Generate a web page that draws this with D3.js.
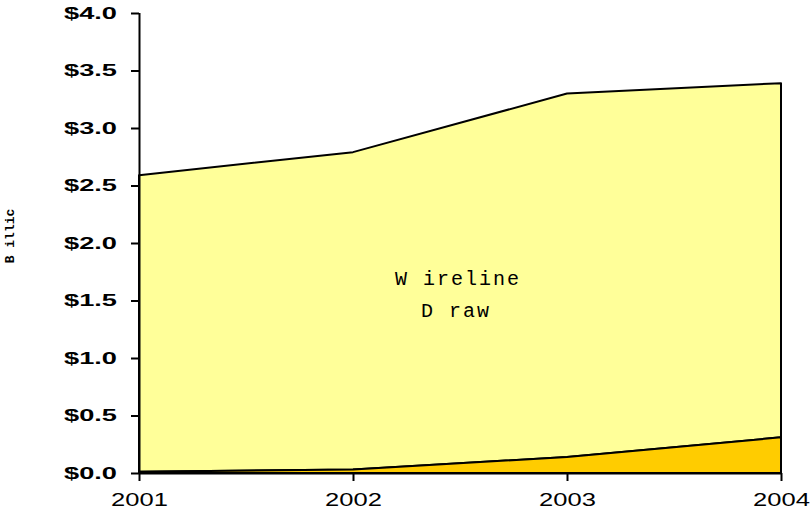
<!DOCTYPE html>
<html>
<head>
<meta charset="utf-8">
<script src="https://cdn.jsdelivr.net/npm/d3@7/dist/d3.min.js"></script>
<style>
  body { margin: 0; background: #fff; }
</style>
</head>
<body>
<div class="js-chart"></div>
<script>
// Data (billions of dollars)
var years = [2001, 2002, 2003, 2004];
var otherValues = [0.01, 0.03, 0.14, 0.31];
var wirelineValues = [2.58, 2.76, 3.16, 3.08];
var yTicks = [0, 0.5, 1, 1.5, 2, 2.5, 3, 3.5, 4];

var width = 810;
var height = 511;
var margin = { top: 13, right: 29, bottom: 38, left: 139 };

var svg = d3.select('.js-chart').append('svg')
  .attr('width', width)
  .attr('height', height);

var x = d3.scalePoint()
  .domain(years)
  .range([margin.left, width - margin.right]);

var y = d3.scaleLinear()
  .domain([0, 4])
  .range([height - margin.bottom, margin.top]);

var rows = years.map(function(yr, i) {
  return { year: yr, other: otherValues[i], wireline: wirelineValues[i] };
});

var stack = d3.stack().keys(['other', 'wireline']);
var layers = stack(rows);
var colours = { other: '#ffcc00', wireline: '#ffff99' };

var area = d3.area()
  .x(function(d) { return x(d.data.year); })
  .y0(function(d) { return y(d[0]); })
  .y1(function(d) { return y(d[1]); });

// draw wireline first so the lower band sits on top of it
svg.selectAll('.layer')
  .data(layers.slice().reverse())
  .enter().append('path')
  .attr('class', 'layer')
  .attr('d', area)
  .attr('fill', function(d) { return colours[d.key]; })
  .attr('stroke', '#000')
  .attr('stroke-width', 2)
  .attr('stroke-linejoin', 'round');

// axes
var yAxis = svg.append('g')
  .attr('transform', 'translate(' + margin.left + ',0)')
  .call(d3.axisLeft(y)
    .tickValues(yTicks)
    .tickSize(8)
    .tickFormat(function(d) { return '$' + d3.format('.1f')(d); }));

var xAxis = svg.append('g')
  .attr('transform', 'translate(0,' + (height - margin.bottom) + ')')
  .call(d3.axisBottom(x).tickSize(8).tickPadding(12).tickFormat(d3.format('d')));

[yAxis, xAxis].forEach(function(g) {
  g.select('.domain').attr('stroke', '#000').attr('stroke-width', 2);
  g.selectAll('.tick line').attr('stroke', '#000').attr('stroke-width', 2);
  g.selectAll('.tick text')
    .attr('fill', '#000')
    .style('font-family', '"Liberation Sans", Arial, sans-serif');
});
yAxis.select('.domain').attr('d', 'M0.5,' + y(4) + 'V' + y(0));
xAxis.select('.domain').attr('d', 'M' + x(2001) + ',0.5H' + x(2004));

// the original labels are a wide face, so stretch them sideways
yAxis.selectAll('.tick text')
  .attr('x', 0)
  .attr('transform', 'translate(-22,0) scale(1.7,1)')
  .style('font-weight', 'bold')
  .style('font-size', '16px');

xAxis.selectAll('.tick text')
  .attr('transform', 'scale(1.42,1)')
  .style('font-size', '18px');

// axis title
svg.append('text')
  .attr('transform', 'translate(14,236) rotate(-90)')
  .attr('text-anchor', 'middle')
  .style('font-family', '"Liberation Mono", monospace')
  .style('font-weight', 'bold')
  .style('font-size', '13px')
  .text('B illic');

// area label
var label = svg.append('text')
  .attr('text-anchor', 'middle')
  .style('font-family', '"Liberation Mono", monospace')
  .style('font-size', '20px')
  .style('letter-spacing', '2px');
label.append('tspan').attr('x', 458).attr('y', 285).text('W ireline');
label.append('tspan').attr('x', 456).attr('y', 317).text('D raw');
</script>
</body>
</html>
